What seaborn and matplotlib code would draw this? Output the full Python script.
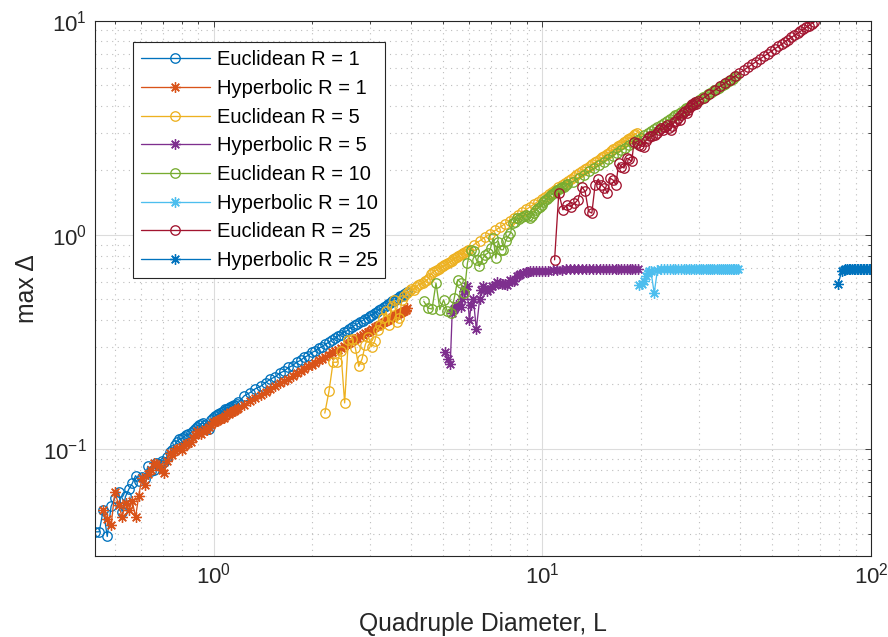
import matplotlib
matplotlib.use("Agg")
import matplotlib.pyplot as plt
import seaborn as sns
from matplotlib.ticker import NullFormatter

# Normalised sample positions s = L / R shared by the Euclidean sweeps
s_grid = [
    0.436, 0.449, 0.462, 0.475, 0.488, 0.501, 0.514, 0.527, 0.540, 0.553,
    0.566, 0.579, 0.592, 0.605, 0.618, 0.631, 0.644, 0.657, 0.670, 0.683,
    0.696, 0.709, 0.722, 0.735, 0.748, 0.761, 0.774, 0.787, 0.800, 0.813,
    0.826, 0.839, 0.852, 0.865, 0.878, 0.891, 0.904, 0.917, 0.930, 0.943,
    0.956, 0.969, 0.982, 0.995, 1.008, 1.021, 1.034, 1.047, 1.060, 1.073,
    1.086, 1.099, 1.112, 1.125, 1.138, 1.151, 1.164, 1.177, 1.190,
    1.24, 1.29, 1.34, 1.39, 1.44, 1.49, 1.54, 1.59, 1.64, 1.69,
    1.74, 1.79, 1.84, 1.89, 1.94, 1.99, 2.04, 2.09, 2.14, 2.19,
    2.24, 2.29, 2.34, 2.39, 2.44, 2.49, 2.54, 2.59, 2.64, 2.69,
    2.74, 2.79, 2.84, 2.89, 2.94, 2.99, 3.04, 3.09, 3.14, 3.19,
    3.24, 3.29, 3.34, 3.39, 3.44, 3.49, 3.54, 3.59, 3.64, 3.69,
    3.74, 3.79, 3.84, 3.89, 3.94,
]

# Euclidean R = 1 (starts at s_grid[0])
euc1_y = [
    0.041, 0.041, 0.052, 0.039, 0.054, 0.059, 0.063, 0.051, 0.060, 0.065,
    0.069, 0.075, 0.071, 0.074, 0.072, 0.083, 0.079, 0.080, 0.086, 0.085,
    0.0875, 0.0866, 0.092, 0.097, 0.099, 0.104, 0.108, 0.111, 0.112, 0.114,
    0.116, 0.117, 0.119, 0.121, 0.124, 0.127, 0.129, 0.131, 0.132, 0.130,
    0.127, 0.124, 0.136, 0.140, 0.142, 0.144, 0.146, 0.147, 0.149, 0.151,
    0.153, 0.154, 0.156, 0.157, 0.159, 0.160, 0.159, 0.162, 0.165,
    0.177, 0.183, 0.191, 0.196, 0.204, 0.212, 0.217, 0.226, 0.231, 0.240,
    0.245, 0.254, 0.259, 0.268, 0.273, 0.282, 0.287, 0.296, 0.300, 0.309,
    0.314, 0.323, 0.328, 0.337, 0.342, 0.351, 0.355, 0.364, 0.369, 0.378,
    0.383, 0.392, 0.397, 0.406, 0.410, 0.419, 0.424, 0.433, 0.437, 0.447,
    0.451, 0.460, 0.464, 0.474, 0.478, 0.488, 0.491, 0.501, 0.505, 0.515,
    0.519, 0.529, 0.532, 0.541,
]

# Hyperbolic R = 1 (starts at s_grid[2])
hyp1_start = 2
hyp1_y = [
    0.052, 0.047, 0.044, 0.063, 0.055, 0.048, 0.056, 0.052, 0.057, 0.048,
    0.060, 0.073, 0.068, 0.076, 0.080, 0.086, 0.085, 0.083, 0.080, 0.077,
    0.088, 0.096, 0.094, 0.0975, 0.100, 0.101, 0.099, 0.103, 0.105, 0.107,
    0.108, 0.112, 0.116, 0.121, 0.119, 0.117, 0.121, 0.124, 0.123, 0.127,
    0.130, 0.133, 0.134, 0.135, 0.137, 0.138, 0.139, 0.139, 0.142, 0.145,
    0.146, 0.148, 0.149, 0.151, 0.152, 0.154, 0.156,
    0.161, 0.167, 0.172, 0.179, 0.185, 0.190, 0.196, 0.203, 0.208, 0.213,
    0.219, 0.226, 0.231, 0.236, 0.243, 0.247, 0.252, 0.259, 0.264, 0.269,
    0.275, 0.282, 0.286, 0.291, 0.297, 0.304, 0.308, 0.313, 0.319, 0.326,
    0.330, 0.335, 0.341, 0.347, 0.352, 0.356, 0.362, 0.369, 0.373, 0.378,
    0.384, 0.390, 0.395, 0.399, 0.405, 0.411, 0.416, 0.420, 0.426, 0.433,
    0.437, 0.441, 0.447, 0.455,
]

# Euclidean R = 5 (starts at s_grid[0])
euc5_y = [
    0.147, 0.186, 0.254, 0.254, 0.286, 0.164, 0.321, 0.326, 0.296, 0.243,
    0.263, 0.307, 0.333, 0.300, 0.318, 0.360, 0.380, 0.409, 0.439, 0.380,
    0.463, 0.497, 0.390, 0.409, 0.497, 0.515, 0.534, 0.545, 0.560, 0.554,
    0.570, 0.585, 0.590, 0.598, 0.606, 0.612, 0.630, 0.655, 0.668, 0.675,
    0.687, 0.695, 0.705, 0.712, 0.720, 0.728, 0.738, 0.748, 0.758, 0.768,
    0.778, 0.787, 0.796, 0.806, 0.815, 0.823, 0.832, 0.842, 0.851,
    0.900, 0.937, 0.975, 1.012, 1.049, 1.087, 1.125, 1.163, 1.200, 1.238,
    1.276, 1.315, 1.353, 1.391, 1.430, 1.468, 1.507, 1.546, 1.585, 1.624,
    1.663, 1.702, 1.742, 1.781, 1.820, 1.860, 1.900, 1.939, 1.979, 2.019,
    2.059, 2.099, 2.139, 2.179, 2.220, 2.260, 2.300, 2.341, 2.381, 2.422,
    2.463, 2.503, 2.544, 2.585, 2.626, 2.667, 2.708, 2.749, 2.790, 2.832,
    2.873, 2.914, 2.956, 2.997,
]

# Hyperbolic R = 5
hyp5_L = [
    5.07, 5.17, 5.25, 5.32, 5.40, 5.48, 5.56, 5.64, 5.70, 5.77,
    5.84, 5.90, 6.00, 6.08, 6.17, 6.30, 6.45, 6.53, 6.61, 6.70,
    6.80, 6.92, 7.05, 7.17, 7.30, 7.43, 7.56, 7.70, 7.83, 8.00,
    8.10, 8.20, 8.36, 8.47, 8.58, 8.74, 8.90, 9.05, 9.20, 9.38,
    9.55, 9.75, 10.0, 10.2, 10.4, 10.75, 11.1, 11.45, 11.8, 12.15,
    12.5, 12.85, 13.2, 13.55, 13.9, 14.25, 14.6, 14.95, 15.3, 15.65,
    16.0, 16.35, 16.7, 17.05, 17.4, 17.75, 18.1, 18.45, 18.8, 19.15,
    19.5,
]
hyp5_y = [
    0.285, 0.262, 0.250, 0.431, 0.450, 0.471, 0.465, 0.460, 0.500, 0.544,
    0.560, 0.574, 0.401, 0.470, 0.501, 0.363, 0.501, 0.550, 0.574, 0.560,
    0.544, 0.560, 0.574, 0.585, 0.599, 0.595, 0.591, 0.588, 0.585, 0.617,
    0.610, 0.606, 0.639, 0.650, 0.658, 0.662, 0.667, 0.671, 0.674, 0.678,
    0.681, 0.678, 0.674, 0.678, 0.681, 0.684, 0.687, 0.688, 0.689, 0.689,
    0.690, 0.690, 0.690, 0.691, 0.691, 0.691, 0.691, 0.692, 0.692, 0.692,
    0.692, 0.692, 0.692, 0.693, 0.693, 0.693, 0.693, 0.693, 0.693, 0.693,
    0.693,
]

# Euclidean R = 10 (starts at s_grid[0])
euc10_y = [
    0.489, 0.455, 0.450, 0.595, 0.447, 0.497, 0.440, 0.431, 0.507, 0.617,
    0.595, 0.534, 0.738, 0.851, 0.836, 0.760, 0.711, 0.770, 0.807, 0.821,
    0.867, 0.965, 0.778, 0.930, 0.851, 0.851, 0.940, 0.982, 1.018, 1.134,
    1.150, 1.196, 1.190, 1.210, 1.230, 1.240, 1.220, 1.196, 1.230, 1.260,
    1.300, 1.330, 1.355, 1.380, 1.420, 1.457, 1.470, 1.500, 1.530, 1.550,
    1.570, 1.593, 1.610, 1.630, 1.650, 1.670, 1.680, 1.700, 1.720,
    1.77, 1.84, 1.91, 1.98, 2.05, 2.12, 2.19, 2.27, 2.34, 2.41,
    2.48, 2.55, 2.62, 2.69, 2.76, 2.84, 2.91, 2.98, 3.05, 3.12,
    3.19, 3.26, 3.33, 3.40, 3.47, 3.54, 3.61, 3.68, 3.75, 3.82,
    3.89, 3.96, 4.03, 4.10, 4.17, 4.24, 4.31, 4.38, 4.45, 4.52,
    4.59, 4.66, 4.73, 4.80, 4.87, 4.94, 5.01, 5.08, 5.15, 5.22,
    5.29, 5.36, 5.43, 5.50,
]

# Hyperbolic R = 10
hyp10_L = [
    19.7, 20.05, 20.4, 20.65, 20.9, 21.15, 21.4, 21.9, 22.4, 22.9,
    23.4, 23.9, 24.4, 24.9, 25.4, 25.9, 26.4, 26.9, 27.4, 27.9,
    28.4, 28.9, 29.4, 29.9, 30.4, 30.9, 31.4, 31.9, 32.4, 32.9,
    33.4, 33.9, 34.4, 34.9, 35.4, 35.9, 36.4, 36.9, 37.4, 37.9,
    38.4, 38.9, 39.4,
]
hyp10_y = [
    0.585, 0.590, 0.606, 0.639, 0.662, 0.674, 0.676, 0.534, 0.684, 0.690,
    0.691, 0.691, 0.692, 0.692, 0.692, 0.692, 0.692, 0.692, 0.692, 0.692,
    0.692, 0.692, 0.693, 0.693, 0.693, 0.693, 0.693, 0.693, 0.693, 0.693,
    0.693, 0.693, 0.693, 0.693, 0.693, 0.693, 0.693, 0.693, 0.693, 0.693,
    0.693, 0.693, 0.693,
]

# Euclidean R = 25 (starts at s_grid[0]; beyond max Delta = 10 it leaves the axes)
euc25_y = [
    0.764, 1.565, 1.308, 1.380, 1.355, 1.400, 1.457, 1.680, 1.593, 1.285,
    1.262, 1.711, 1.820, 1.711, 1.660, 1.565, 1.838, 1.800, 1.711, 2.160,
    2.080, 2.050, 2.280, 2.250, 2.200, 2.720, 2.680, 2.630, 2.600, 2.580,
    2.750, 2.830, 2.880, 2.900, 2.930, 3.000, 3.080, 3.150, 3.100, 3.200,
    3.260, 3.150, 3.090, 3.220, 3.350, 3.400, 3.500, 3.440, 3.620, 3.700,
    3.780, 3.700, 3.820, 3.950, 4.100, 4.050, 4.150, 4.100, 4.200,
    4.35, 4.55, 4.74, 4.93, 5.12, 5.31, 5.49, 5.68, 5.87, 6.06,
    6.25, 6.44, 6.63, 6.82, 7.01, 7.20, 7.39, 7.58, 7.77, 7.96,
    8.16, 8.35, 8.54, 8.73, 8.92, 9.11, 9.30, 9.49, 9.68, 9.87,
]

# Hyperbolic R = 25
hyp25_L = [
    79.5, 81.5, 82.5, 83.5, 84.5, 85.5, 86.5, 87.5, 88.5, 89.5,
    90.5, 91.5, 92.5, 93.5, 94.5, 95.5, 96.5, 97.5, 98.5, 99.5,
]
hyp25_y = [
    0.591, 0.681, 0.688, 0.690, 0.691, 0.692, 0.692, 0.692, 0.693, 0.693,
    0.693, 0.693, 0.693, 0.693, 0.693, 0.693, 0.693, 0.693, 0.693, 0.693,
]

labels = [
    "Euclidean R = 1", "Hyperbolic R = 1", "Euclidean R = 5", "Hyperbolic R = 5",
    "Euclidean R = 10", "Hyperbolic R = 10", "Euclidean R = 25", "Hyperbolic R = 25",
]
colors = ["#0072BD", "#D95319", "#EDB120", "#7E2F8E",
          "#77AC30", "#4DBEEE", "#A2142F", "#0072BD"]


def on_grid(radius, values, start=0):
    """L values for a sweep sampled on s_grid, beginning at index `start`."""
    return [radius * s for s in s_grid[start:start + len(values)]]


series = [
    (on_grid(1, euc1_y), euc1_y, "o"),
    (on_grid(1, hyp1_y, hyp1_start), hyp1_y, "*"),
    (on_grid(5, euc5_y), euc5_y, "o"),
    (hyp5_L, hyp5_y, "*"),
    (on_grid(10, euc10_y), euc10_y, "o"),
    (hyp10_L, hyp10_y, "*"),
    (on_grid(25, euc25_y), euc25_y, "o"),
    (hyp25_L, hyp25_y, "*"),
]

sns.set_theme(style="white")
plt.rcParams["font.family"] = ["Liberation Sans", "DejaVu Sans"]
plt.rcParams["mathtext.fontset"] = "custom"
plt.rcParams["mathtext.rm"] = "Liberation Sans"
plt.rcParams["mathtext.default"] = "regular"

ink = "#262626"
fig = plt.figure(figsize=(8.88, 6.37), dpi=100)
ax = fig.add_axes([0.107, 0.1272, 0.8739, 0.8404])
ax.set_xscale("log")
ax.set_yscale("log")

asterisk = (8, 2, 0)
for (x, y, mk), lab, col in zip(series, labels, colors):
    sns.lineplot(
        x=x, y=y, ax=ax, estimator=None, sort=False,
        color=col, linewidth=0.95, label=lab,
        marker="o" if mk == "o" else asterisk,
        markersize=6.8 if mk == "o" else 7.6,
        markerfacecolor="none", markeredgecolor=col, markeredgewidth=0.95,
    )

ax.set_xlim(0.436, 100)
ax.set_ylim(10 ** -1.5, 10)

ax.set_axisbelow(True)
ax.grid(True, which="major", color="#dcdcdc", linewidth=0.8, linestyle="-")
ax.grid(True, which="minor", color="#bdbdbd", linewidth=0.8, linestyle=(0, (1, 4)))
ax.xaxis.set_minor_formatter(NullFormatter())
ax.yaxis.set_minor_formatter(NullFormatter())

for sp in ax.spines.values():
    sp.set_visible(True)
    sp.set_color(ink)
    sp.set_linewidth(0.8)

ax.tick_params(which="both", direction="in", top=True, right=True,
               colors=ink, width=0.6, labelsize=16)
ax.tick_params(which="major", length=4.5)
ax.tick_params(which="minor", length=2.5)
ax.tick_params(axis="x", which="major", pad=5)
ax.tick_params(axis="y", which="major", pad=6)

ax.set_xlabel("Quadruple Diameter, L", fontsize=17.8, color=ink, labelpad=17)
ax.set_ylabel("max Δ", fontsize=17.8, color=ink, labelpad=3)

leg = ax.legend(
    loc="upper left", bbox_to_anchor=(0.0486, 0.9597), borderaxespad=0,
    fontsize=14.5, frameon=True, fancybox=False, edgecolor=ink,
    framealpha=1, handlelength=3.43, handletextpad=0.33,
    labelspacing=0.48, borderpad=0.4, numpoints=1,
)
leg.get_frame().set_linewidth(0.8)
for t in leg.get_texts():
    t.set_color("black")

fig.savefig("out.png", dpi=100)
